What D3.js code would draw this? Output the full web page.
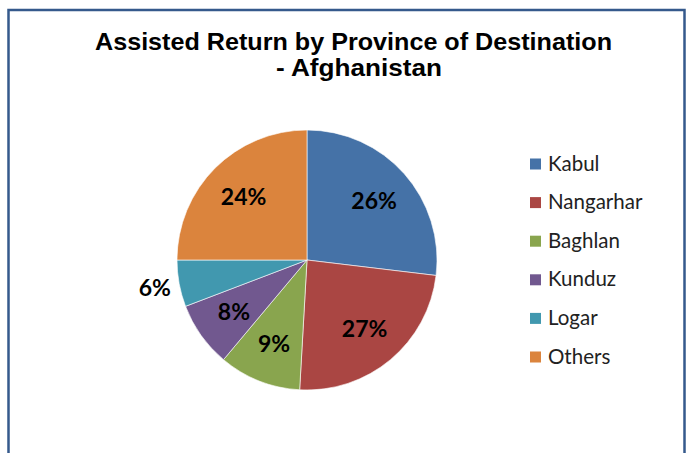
<!DOCTYPE html>
<html>
<head>
<meta charset="utf-8">
<script src="https://cdn.jsdelivr.net/npm/d3@7"></script>
<style>
  html, body { margin: 0; padding: 0; background: #fff; }
  svg { display: block; }
</style>
</head>
<body>
<svg id="chart"></svg>
<script>
// provinces, in the order they go round the pie (clockwise from 12 o'clock)
const provinces = ['Kabul', 'Nangarhar', 'Baghlan', 'Kunduz', 'Logar', 'Others'];
// share of each slice
const shares = [26.9, 24.0, 10.2, 8.1, 5.8, 25.0];
// percentage labels as printed on the chart
const pctLabels = ['26%', '27%', '9%', '8%', '6%', '24%'];
const colors = ['#4572A7', '#AA4643', '#89A54E', '#71588F', '#4198AF', '#DB843D'];
const titleLines = ['Assisted Return by Province of Destination', '- Afghanistan'];

const width = 691, height = 453;
const cx = 307, cy = 260, radius = 130;

const svg = d3.select('#chart')
  .attr('width', width)
  .attr('height', height);

// chart area frame (bottom edge runs off the picture)
svg.append('rect')
  .attr('x', 8.5).attr('y', 10)
  .attr('width', 676).attr('height', 470)
  .attr('fill', 'none')
  .attr('stroke', '#35598c')
  .attr('stroke-width', 2.5);

// title - the original is a little wider than the font, so stretch to fit
const title = svg.append('text')
  .attr('text-anchor', 'middle')
  .attr('font-family', '"Liberation Sans", Arial, sans-serif')
  .attr('font-weight', 'bold')
  .attr('font-size', 24)
  .attr('fill', '#000');
title.append('tspan').attr('x', 353.5).attr('y', 50)
  .attr('textLength', 517).attr('lengthAdjust', 'spacingAndGlyphs')
  .text(titleLines[0]);
title.append('tspan').attr('x', 359).attr('y', 76)
  .attr('textLength', 166).attr('lengthAdjust', 'spacingAndGlyphs')
  .text(titleLines[1]);

const pie = d3.pie().sort(null).value(d => d.value);
const data = provinces.map((p, i) => ({ name: p, value: shares[i], label: pctLabels[i], color: colors[i] }));
const arcs = pie(data);

const arc = d3.arc().innerRadius(0).outerRadius(radius);
const labelArc = d3.arc().innerRadius(radius * 0.69).outerRadius(radius * 0.69);
const outsideArc = d3.arc().innerRadius(radius * 1.19).outerRadius(radius * 1.19);

const g = svg.append('g').attr('transform', `translate(${cx},${cy})`);

g.selectAll('path.slice')
  .data(arcs)
  .join('path')
  .attr('class', 'slice')
  .attr('d', arc)
  .attr('fill', d => d.data.color)
  .attr('stroke', '#fff')
  .attr('stroke-width', 0.6);

// small slices get their label outside the pie
g.selectAll('text.pct')
  .data(arcs)
  .join('text')
  .attr('class', 'pct')
  .attr('transform', d => {
    const small = d.data.value < 7;
    const c = (small ? outsideArc : labelArc).centroid(d);
    return `translate(${c[0]},${c[1]})`;
  })
  .attr('text-anchor', 'middle')
  .attr('dy', '0.36em')
  .attr('font-family', 'Lato, "Open Sans", sans-serif')
  .attr('font-weight', 'bold')
  .attr('font-size', 23)
  .attr('fill', '#000')
  .text(d => d.data.label);

// legend
const legendY = d3.scalePoint()
  .domain(provinces)
  .range([164, 357]);

const legend = svg.append('g')
  .selectAll('g')
  .data(data)
  .join('g')
  .attr('transform', d => `translate(530,${legendY(d.name)})`);

legend.append('rect')
  .attr('x', 0).attr('y', -5.5)
  .attr('width', 11).attr('height', 11)
  .attr('fill', d => d.color);

legend.append('text')
  .attr('x', 18)
  .attr('y', 6.5)
  .attr('font-family', 'Lato, "Open Sans", sans-serif')
  .attr('font-size', 20.5)
  .attr('fill', '#222')
  .text(d => d.name);
</script>
</body>
</html>
